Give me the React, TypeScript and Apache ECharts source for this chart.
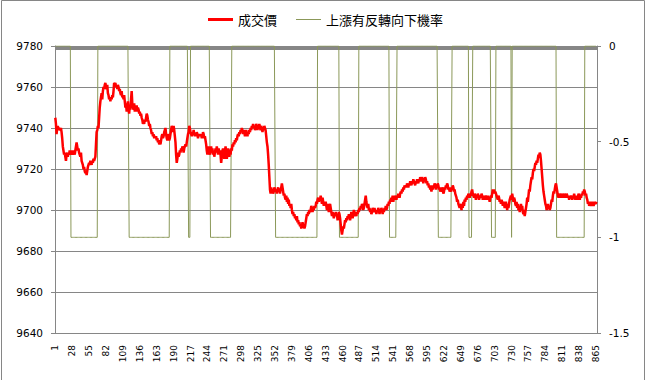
import React, { useEffect, useRef } from "react";
import * as echarts from "echarts";

const seriesNames = ["成交價", "上漲有反轉向下機率"];

const xTickLabels = ["1", "28", "55", "82", "109", "136", "163", "190", "217", "244", "271", "298", "325", "352", "379", "406", "433", "460", "487", "514", "541", "568", "595", "622", "649", "676", "703", "730", "757", "784", "811", "838", "865"];

const categoryCount = 866;
const categories = Array.from({ length: categoryCount }, (_, i) => String(i + 1));

const priceValues = [
  9745, 9742, 9737, 9740, 9741, 9739, 9740, 9740,
  9739, 9740, 9738, 9735, 9731, 9729, 9727, 9728,
  9726, 9724, 9727, 9728, 9726, 9728, 9727, 9729,
  9728, 9727, 9729, 9728, 9727, 9729, 9728, 9727,
  9729, 9731, 9733, 9731, 9729, 9730, 9728, 9727,
  9726, 9728, 9724, 9723, 9722, 9720, 9721, 9719,
  9718, 9719, 9717, 9719, 9721, 9722, 9723, 9722,
  9724, 9723, 9722, 9724, 9723, 9725, 9724, 9724,
  9726, 9732, 9738, 9739, 9741, 9740, 9745, 9750,
  9753, 9755, 9757, 9754, 9758, 9760, 9759, 9761,
  9762, 9760, 9759, 9761, 9757, 9756, 9754, 9755,
  9753, 9755, 9754, 9756, 9755, 9758, 9762, 9761,
  9762, 9760, 9761, 9759, 9761, 9760, 9758, 9759,
  9757, 9756, 9758, 9755, 9756, 9754, 9756, 9753,
  9750, 9752, 9748, 9750, 9753, 9749, 9747, 9751,
  9749, 9754, 9758, 9752, 9750, 9749, 9752, 9748,
  9750, 9749, 9751, 9748, 9750, 9749, 9747, 9748,
  9746, 9747, 9745, 9744, 9742, 9743, 9742, 9744,
  9743, 9745, 9747, 9746, 9744, 9743, 9741, 9742,
  9740, 9739, 9737, 9738, 9736, 9737, 9735, 9736,
  9735, 9736, 9734, 9735, 9733, 9734, 9732, 9733,
  9732, 9734, 9736, 9737, 9735, 9736, 9738, 9739,
  9740, 9737, 9735, 9734, 9737, 9736, 9734, 9735,
  9737, 9739, 9741, 9740, 9738, 9741, 9739, 9736,
  9733, 9727, 9723, 9725, 9728, 9726, 9727, 9729,
  9728, 9730, 9729, 9731, 9730, 9728, 9730, 9731,
  9732, 9731, 9733, 9735, 9737, 9738, 9741, 9740,
  9738, 9737, 9736, 9738, 9737, 9739, 9737, 9736,
  9737, 9736, 9738, 9737, 9735, 9737, 9736, 9737,
  9736, 9737, 9735, 9736, 9738, 9737, 9735, 9736,
  9734, 9732, 9729, 9727, 9730, 9731, 9728, 9727,
  9729, 9731, 9728, 9730, 9727, 9729, 9726, 9728,
  9730, 9728, 9731, 9729, 9727, 9730, 9728, 9729,
  9727, 9723, 9726, 9729, 9730, 9727, 9725, 9728,
  9731, 9728, 9725, 9727, 9730, 9729, 9726, 9728,
  9727, 9730, 9729, 9732, 9731, 9733, 9732, 9734,
  9733, 9735, 9734, 9736, 9737, 9736, 9738, 9737,
  9739, 9738, 9740, 9739, 9737, 9739, 9738, 9736,
  9738, 9739, 9737, 9736, 9738, 9737, 9739, 9738,
  9740, 9739, 9741, 9740, 9742, 9740, 9741, 9739,
  9740, 9742, 9741, 9739, 9741, 9740, 9742, 9740,
  9739, 9741, 9740, 9738, 9740, 9739, 9741, 9740,
  9739, 9736, 9733, 9731, 9727, 9722, 9716, 9710,
  9708, 9711, 9709, 9710, 9708, 9709, 9711, 9710,
  9709, 9710, 9708, 9710, 9711, 9709, 9710, 9708,
  9710, 9711, 9713, 9711, 9709, 9707, 9708, 9706,
  9705, 9707, 9704, 9706, 9703, 9705, 9702, 9703,
  9701, 9703, 9700, 9698, 9699, 9697, 9698, 9696,
  9697, 9695, 9697, 9694, 9695, 9693, 9694, 9692,
  9693, 9691, 9692, 9694, 9692, 9693, 9691, 9692,
  9694, 9696, 9698, 9697, 9699, 9698, 9700, 9699,
  9700, 9702, 9701, 9699, 9701, 9700, 9702, 9701,
  9702, 9704, 9703, 9705, 9706, 9704, 9706, 9705,
  9707, 9705, 9703, 9706, 9704, 9702, 9704, 9703,
  9704, 9702, 9700, 9703, 9701, 9699, 9702, 9703,
  9701, 9699, 9697, 9699, 9698, 9696, 9698, 9697,
  9699, 9697, 9698, 9695, 9697, 9699, 9698, 9696,
  9693, 9690, 9688, 9690, 9692, 9691, 9693, 9695,
  9694, 9696, 9695, 9697, 9696, 9698, 9697, 9695,
  9697, 9699, 9698, 9696, 9698, 9700, 9699, 9697,
  9698, 9697, 9699, 9698, 9700, 9699, 9701, 9700,
  9702, 9701, 9703, 9702, 9700, 9701, 9703, 9705,
  9707, 9704, 9702, 9701, 9703, 9700, 9701, 9699,
  9700, 9698, 9699, 9701, 9700, 9699, 9701, 9699,
  9700, 9698, 9700, 9699, 9701, 9700, 9698, 9700,
  9699, 9701, 9700, 9698, 9700, 9699, 9701, 9700,
  9702, 9700, 9701, 9703, 9702, 9704, 9703, 9705,
  9704, 9706, 9705, 9707, 9704, 9706, 9705, 9707,
  9706, 9705, 9707, 9706, 9708, 9707, 9706, 9708,
  9709, 9708, 9710, 9709, 9711, 9710, 9712, 9711,
  9712, 9711, 9713, 9712, 9711, 9713, 9712, 9714,
  9713, 9712, 9714, 9713, 9715, 9714, 9713, 9712,
  9714, 9713, 9715, 9714, 9713, 9715, 9714, 9716,
  9715, 9714, 9716, 9715, 9713, 9715, 9714, 9716,
  9715, 9713, 9714, 9712, 9713, 9711, 9712, 9710,
  9711, 9709, 9712, 9710, 9712, 9711, 9713, 9712,
  9710, 9712, 9711, 9713, 9712, 9710, 9711, 9709,
  9710, 9709, 9711, 9710, 9708, 9709, 9711, 9710,
  9712, 9711, 9713, 9712, 9710, 9711, 9709, 9710,
  9709, 9711, 9710, 9712, 9711, 9709, 9710, 9708,
  9707, 9706, 9704, 9705, 9703, 9702, 9701, 9703,
  9702, 9700, 9703, 9701, 9704, 9702, 9705, 9704,
  9706, 9705, 9707, 9706, 9708, 9707, 9706, 9708,
  9707, 9709, 9710, 9708, 9707, 9706, 9708, 9707,
  9705, 9707, 9706, 9708, 9707, 9705, 9706, 9707,
  9706, 9708, 9707, 9705, 9706, 9707, 9705, 9706,
  9707, 9706, 9705, 9707, 9705, 9706, 9704, 9706,
  9707, 9706, 9708, 9710, 9709, 9710, 9708, 9709,
  9708, 9707, 9706, 9705, 9707, 9706, 9704, 9705,
  9703, 9705, 9704, 9702, 9704, 9703, 9701, 9702,
  9704, 9702, 9700, 9703, 9701, 9703, 9705, 9706,
  9707, 9705, 9708, 9706, 9704, 9706, 9705, 9703,
  9702, 9704, 9701, 9703, 9700, 9702, 9699, 9701,
  9703, 9700, 9702, 9699, 9698, 9700, 9697, 9699,
  9701, 9703, 9706, 9704, 9707, 9710, 9709, 9712,
  9714, 9716, 9715, 9718, 9720, 9719, 9721, 9723,
  9722, 9724, 9723, 9725, 9727, 9726, 9728, 9727,
  9724, 9720, 9716, 9712, 9709, 9707, 9705, 9703,
  9702, 9700, 9701, 9703, 9701, 9702, 9700, 9701,
  9703, 9705, 9704, 9707, 9709, 9708, 9710, 9712,
  9713, 9711, 9709, 9707, 9706, 9708, 9707, 9706,
  9707, 9708, 9706, 9708, 9707, 9706, 9708, 9707,
  9706, 9708, 9707, 9706, 9707, 9705, 9707, 9706,
  9707, 9706, 9705, 9707, 9706, 9708, 9706, 9705,
  9706, 9707, 9705, 9706, 9708, 9707, 9705, 9707,
  9706, 9708, 9707, 9709, 9708, 9710, 9709, 9707,
  9708, 9706, 9705, 9703, 9704, 9702, 9703, 9704,
  9703, 9702, 9704, 9703, 9702, 9703, 9704, 9703,
  9703, 9704,
];

// category ranges (1-based, inclusive) where the reversal probability is -1
const reversalDownRanges: [number, number][] = [
  [26, 68], [119, 183], [214, 216], [249, 282], [353, 419], [455, 485],
  [535, 546], [613, 634], [662, 667], [698, 704], [730, 730], [802, 846],
];

const priceAxis = { min: 9640, max: 9780, interval: 20 };
const probAxis = { min: -1.5, max: 0, interval: 0.5 };

const GRID_COLOR = "#868686";
const PRICE_COLOR = "#ff0000";
const PROB_COLOR = "#8b9859";

export default function App() {
  const ref = useRef<HTMLDivElement>(null);
  useEffect(() => {
    if (!ref.current) return;
    const chart = echarts.init(ref.current, null, { renderer: "svg" });
    const probValues = categories.map((_, i) => {
      const c = i + 1;
      return reversalDownRanges.some(([a, b]) => c >= a && c <= b) ? -1 : 0;
    });
    const legendText = { fontFamily: "Noto Sans CJK TC", fontSize: 13, color: "#000" };
    chart.setOption({
      animation: false,
      backgroundColor: "#ffffff",
      textStyle: { fontFamily: "DejaVu Sans" },
      legend: [
        {
          left: 208,
          top: 13,
          padding: 0,
          icon: "rect",
          itemWidth: 25,
          itemHeight: 3,
          data: [seriesNames[0]],
          textStyle: legendText,
        },
        {
          left: 296,
          top: 13,
          padding: 0,
          icon: "rect",
          itemWidth: 25,
          itemHeight: 1,
          data: [seriesNames[1]],
          textStyle: legendText,
        },
      ],
      grid: { left: 55, right: 53, top: 46, bottom: 47 },
      xAxis: {
        type: "category",
        data: categories,
        boundaryGap: true,
        axisLine: { lineStyle: { color: GRID_COLOR, width: 1 } },
        axisTick: { show: true, interval: 0, length: 4, lineStyle: { color: GRID_COLOR } },
        axisLabel: {
          interval: (_i: number, v: string) => xTickLabels.includes(v),
          rotate: 90,
          fontSize: 9,
          color: "#000",
          margin: 12,
          fontFamily: "DejaVu Sans",
        },
        splitLine: { show: false },
      },
      yAxis: [
        {
          type: "value",
          position: "left",
          min: priceAxis.min,
          max: priceAxis.max,
          interval: priceAxis.interval,
          axisLine: { show: true, lineStyle: { color: GRID_COLOR } },
          axisTick: { show: true, length: 4, lineStyle: { color: GRID_COLOR } },
          axisLabel: {
            fontSize: 10.5,
            color: "#000",
            margin: 12,
            fontFamily: "DejaVu Sans",
            formatter: (v: number) => String(v),
          },
          splitLine: { show: true, lineStyle: { color: GRID_COLOR, width: 1 } },
        },
        {
          type: "value",
          position: "right",
          min: probAxis.min,
          max: probAxis.max,
          interval: probAxis.interval,
          axisLine: { show: true, lineStyle: { color: GRID_COLOR } },
          axisTick: { show: true, length: 4, lineStyle: { color: GRID_COLOR } },
          axisLabel: {
            fontSize: 10.5,
            color: "#000",
            margin: 12,
            fontFamily: "DejaVu Sans",
            formatter: (v: number) => String(v),
          },
          splitLine: { show: false },
        },
      ],
      series: [
        {
          name: seriesNames[0],
          type: "line",
          yAxisIndex: 0,
          data: priceValues,
          symbol: "none",
          lineStyle: { color: PRICE_COLOR, width: 2.5 },
          itemStyle: { color: PRICE_COLOR },
          z: 3,
        },
        {
          name: seriesNames[1],
          type: "line",
          yAxisIndex: 1,
          data: probValues,
          symbol: "none",
          lineStyle: { color: PROB_COLOR, width: 1 },
          itemStyle: { color: PROB_COLOR },
          z: 2,
        },
      ],
      graphic: [
        {
          type: "rect",
          silent: true,
          shape: { x: 1.5, y: 0.5, width: 643, height: 400 },
          style: { fill: "none", stroke: GRID_COLOR, lineWidth: 1 },
        },
      ],
    });
    return () => chart.dispose();
  }, []);
  return (
    <div
      ref={ref}
      style={{ position: "absolute", left: 0, top: 0, width: 650, height: 380 }}
    />
  );
}
